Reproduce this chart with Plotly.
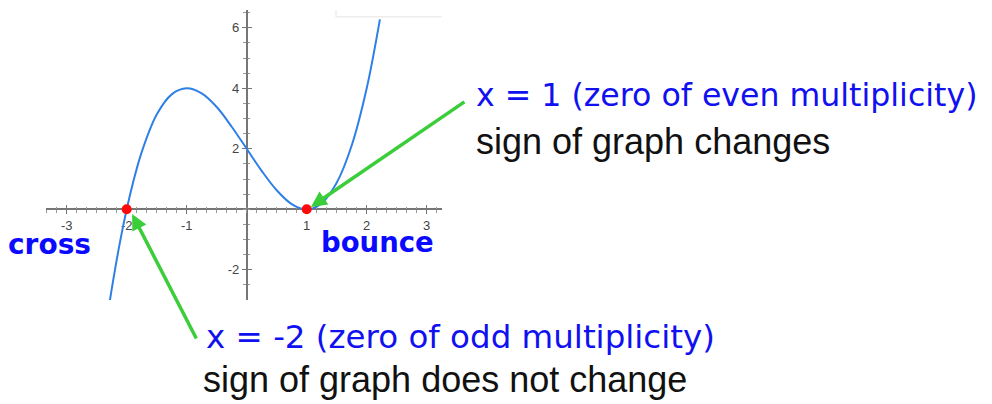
import plotly.graph_objects as go

# Curve samples of the cubic with zeros at x = -2 (single) and x = 1 (double)
curve_x = [-2.28, -2.2, -2.1, -2.0, -1.9, -1.75, -1.5, -1.25, -1.0, -0.75, -0.5,
           -0.25, 0.0, 0.25, 0.5, 0.75, 0.9, 1.0, 1.1, 1.25, 1.5, 1.75, 2.0, 2.22]
curve_y = [-3.01, -2.05, -0.96, 0.0, 0.84, 1.89, 3.13, 3.80, 4.0, 3.83, 3.38,
           2.73, 2.0, 1.27, 0.63, 0.17, 0.03, 0.0, 0.03, 0.20, 0.88, 2.11, 4.0, 6.28]

# Zeros of the function
zero_x = [-2, 1]
zero_y = [0, 0]

# Tick labels
x_ticks = [-3, -2, -1, 1, 2, 3]
y_ticks = [-2, 2, 4, 6]

W, H = 992, 404
X_RANGE = [-3.345, 3.25]
Y_RANGE = [-2.998, 6.588]
X_DOMAIN = [46 / W, 441.7 / W]
Y_DOMAIN = [(H - 300) / H, (H - 10) / H]
X_AXIS_POS = (H - 209.3) / H   # paper position of y = 0
Y_AXIS_POS = 246.7 / W         # paper position of x = 0

AXIS_GREY = "#767676"
BLUE_TEXT = "#1010f0"
GREEN = "#3ccd3a"

fig = go.Figure()

fig.add_trace(go.Scatter(
    x=curve_x, y=curve_y, mode="lines",
    line=dict(color="#2f80e6", width=2, shape="spline", smoothing=1.0),
    hoverinfo="skip", showlegend=False, cliponaxis=True,
))
fig.add_trace(go.Scatter(
    x=zero_x, y=zero_y, mode="markers",
    marker=dict(color="#ff0a0a", size=10, line=dict(width=0)),
    showlegend=False, cliponaxis=False,
))
# empty trace so the overlaid tick axes are drawn
fig.add_trace(go.Scatter(x=[], y=[], xaxis="x2", yaxis="y2", showlegend=False))

common_x = dict(range=X_RANGE, domain=X_DOMAIN, anchor="free", position=X_AXIS_POS,
                showgrid=False, zeroline=False, fixedrange=True, layer="below traces",
                tickvals=x_ticks, ticklen=4, tickwidth=1.3, tickcolor=AXIS_GREY)
common_y = dict(range=Y_RANGE, domain=Y_DOMAIN, anchor="free", position=Y_AXIS_POS,
                showgrid=False, zeroline=False, fixedrange=True, layer="below traces",
                tickvals=y_ticks, ticklen=4, tickwidth=1.3, tickcolor=AXIS_GREY)

TICK_FONT = dict(family="Liberation Sans, Arial", size=13, color="#444444")

fig.update_layout(
    width=W, height=H,
    margin=dict(l=0, r=0, t=0, b=0),
    paper_bgcolor="white", plot_bgcolor="rgba(0,0,0,0)",
    xaxis=dict(**common_x, showline=True, linecolor=AXIS_GREY, linewidth=1.6,
               ticks="outside", ticktext=[str(v) for v in x_ticks], tickfont=TICK_FONT,
               minor=dict(dtick=1 / 6, tick0=0, ticks="outside", ticklen=2.5,
                          tickwidth=1, tickcolor="#999999")),
    xaxis2=dict(**common_x, overlaying="x", showline=False, ticks="inside",
                showticklabels=False,
                minor=dict(dtick=1 / 6, tick0=0, ticks="inside", ticklen=2.5,
                           tickwidth=1, tickcolor="#999999")),
    yaxis=dict(**common_y, showline=True, linecolor=AXIS_GREY, linewidth=1.6,
               ticks="outside", ticktext=[str(v) for v in y_ticks], tickfont=TICK_FONT,
               minor=dict(dtick=0.5, tick0=0, ticks="outside", ticklen=2.5,
                          tickwidth=1, tickcolor="#999999")),
    yaxis2=dict(**common_y, overlaying="y", showline=False, ticks="inside",
                showticklabels=False,
                minor=dict(dtick=0.5, tick0=0, ticks="inside", ticklen=2.5,
                           tickwidth=1, tickcolor="#999999")),
)

# faint frame edge at the top right of the graph
fig.add_shape(type="path", xref="paper", yref="paper",
              path=f"M {336/W} {1-10/H} L {336/W} {1-16.7/H} L {441.7/W} {1-16.7/H}",
              line=dict(color="#eeeeee", width=1.5))

# green pointer arrows to the zeros
fig.add_annotation(x=1.07, y=0.08, xref="x", yref="y", ax=155, ay=-106,
                   text="", showarrow=True, arrowhead=2, arrowsize=0.9,
                   arrowwidth=3.5, arrowcolor=GREEN, standoff=0)
fig.add_annotation(x=-1.91, y=-0.155, xref="x", yref="y", ax=65, ay=126,
                   text="", showarrow=True, arrowhead=2, arrowsize=0.9,
                   arrowwidth=3.5, arrowcolor=GREEN, standoff=0)

def label(text, px, py, size, color, family, weight="normal"):
    fig.add_annotation(x=px / W, y=1 - py / H, xref="paper", yref="paper",
                       text=text, showarrow=False, xanchor="left", yanchor="middle",
                       borderpad=0,
                       font=dict(family=family, size=size, color=color, weight=weight))

HAND = "DejaVu Sans, sans-serif"
label("cross", 7, 244, 28, "#0a0aff", HAND, "bold")
label("bounce", 320, 242, 27.5, "#0a0aff", HAND, "bold")
label("x = 1 (zero of even multiplicity)", 475, 95, 31.6, BLUE_TEXT, HAND)
label("sign of graph changes", 475, 141, 36, "#111111", "Liberation Sans, Arial")
label("x = -2 (zero of odd multiplicity)", 205, 337, 32.5, BLUE_TEXT, HAND)
label("sign of graph does not change", 202, 379, 36, "#111111", "Liberation Sans, Arial")

fig.write_html("out.html")
